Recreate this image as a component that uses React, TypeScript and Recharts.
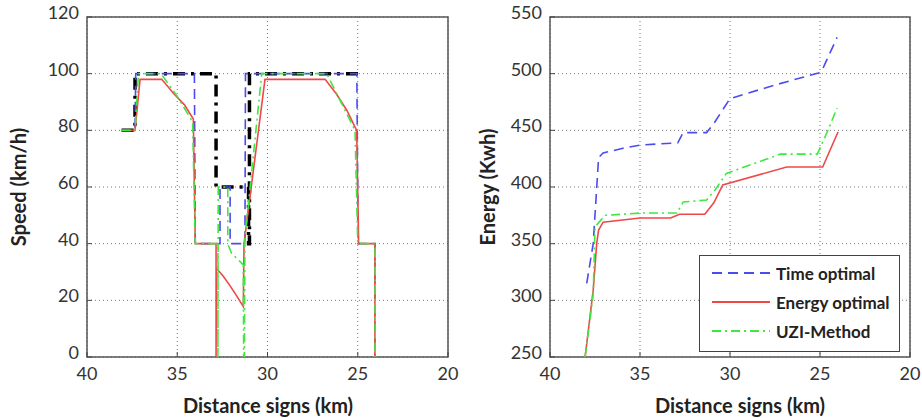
import { LineChart, Line, XAxis, YAxis, CartesianGrid, ReferenceArea } from "recharts"

// [distance sign (km), speed (km/h)]
const speedLimit = [
  [38.08, 80], [37.34, 80], [37.34, 100], [32.85, 100], [32.85, 60], [31.05, 60],
  [31.05, 40], [31.0, 40], [31.0, 100], [24.7, 100],
]
const speedTimeOpt = [
  [38.08, 80], [37.34, 80], [37.3, 100], [34.05, 100], [34.0, 40], [32.63, 40],
  [32.63, 60], [32.07, 60], [32.07, 40], [31.25, 40], [31.22, 100], [25.05, 100],
  [24.98, 40], [24.05, 40], [24.05, 0],
]
const speedEnergyOpt = [
  [38.08, 80], [37.34, 80], [37.06, 98], [35.86, 98], [35.2, 93], [34.6, 89],
  [34.11, 84], [34.0, 40], [32.85, 40], [32.85, 0], [32.83, 31.3], [32.45, 28.5],
  [32.08, 25.2], [31.7, 21.5], [31.34, 17.8], [31.3, 40], [30.14, 98], [26.81, 98],
  [26.2, 93], [25.6, 87], [25.06, 80], [24.95, 40], [24.05, 40], [24.05, 0],
]
const speedUzi = [
  [38.08, 80], [37.34, 80], [37.15, 100], [35.9, 100], [35.0, 92], [34.15, 83],
  [34.0, 40], [32.75, 40], [32.75, 0], [32.73, 60], [32.2, 60], [32.2, 40],
  [32.0, 36.7], [31.34, 32.5], [31.32, 0], [31.28, 0], [31.25, 42], [30.32, 100],
  [26.72, 100], [25.15, 80], [25.0, 40], [24.04, 40], [24.04, 0],
]

// [distance sign (km), energy (kWh)]
const energyTimeOpt = [
  [37.96, 315], [37.6, 350], [37.45, 388], [37.3, 426], [37.05, 430], [36.0, 434],
  [35.0, 437], [32.9, 439], [32.6, 448], [31.3, 448], [30.9, 456], [30.0, 478],
  [27.5, 490], [25.0, 501], [24.8, 506], [24.05, 532],
]
const energyEnergyOpt = [
  [38.05, 250], [37.6, 309], [37.4, 351], [37.3, 362], [37.05, 369], [35.0, 372.7],
  [33.3, 372.7], [32.8, 376], [31.4, 376], [30.9, 386], [30.4, 401.8], [26.85, 417.6],
  [24.85, 417.6], [24.0, 448.5],
]
const energyUzi = [
  [38.05, 250], [37.6, 305], [37.5, 364.7], [36.95, 375], [35.0, 377], [32.95, 377],
  [32.6, 386.8], [31.3, 388.5], [30.85, 397], [30.2, 412], [27.2, 429], [25.15, 429],
  [24.6, 448.5], [24.05, 469.7],
]

const xTicks = [40, 35, 30, 25, 20]
const speedTicks = [0, 20, 40, 60, 80, 100, 120]
const energyTicks = [250, 300, 350, 400, 450, 500, 550]

const toRows = (pts: number[][]) => pts.map(([d, v]) => ({ d, v }))

const BLUE = "#4b4bf0"
const RED = "#f04848"
const GREEN = "#3ee83e"
const FONT = "Lato, sans-serif"
const tick = { fontSize: 18, fill: "#333", fontFamily: FONT }

const series = [
  { label: "Time optimal", color: BLUE, dash: "10 6" },
  { label: "Energy optimal", color: RED, dash: undefined },
  { label: "UZI-Method", color: GREEN, dash: "9 4 2 4" },
]

// y tick labels, nudged so the bottom one clears the x labels
function YTick({ x, y, payload }: any) {
  return (
    <text x={x - 4} y={y} dy={2} textAnchor="end" fontSize={18} fill="#333" fontFamily={FONT}>
      {payload.value}
    </text>
  )
}

export default function App() {
  const margin = { top: 17, right: 12, bottom: 31, left: 27 }
  return (
    <div style={{ position: "absolute", left: 0, top: 0, width: 922, height: 418, background: "#fff", fontFamily: FONT }}>
      <div style={{ position: "absolute", left: 0, top: 0 }}>
        <LineChart width={460} height={418} margin={margin}>
          <CartesianGrid stroke="#777" strokeDasharray="1 3" />
          <XAxis type="number" dataKey="d" domain={[20, 40]} reversed ticks={xTicks} allowDataOverflow
            tick={tick} tickLine={{ stroke: "#444" }} tickSize={-5} axisLine={false} height={30} tickMargin={15} />
          <YAxis type="number" dataKey="v" domain={[0, 120]} ticks={speedTicks} allowDataOverflow
            tick={<YTick />} tickLine={{ stroke: "#444" }} tickSize={-5} axisLine={false} width={60} tickMargin={9} />
          <Line data={toRows(speedLimit)} dataKey="v" stroke="#000" strokeWidth={3.5} strokeDasharray="12 6 3 6" dot={false} isAnimationActive={false} />
          <Line data={toRows(speedTimeOpt)} dataKey="v" stroke={BLUE} strokeWidth={1.6} strokeDasharray="10 6" dot={false} isAnimationActive={false} />
          <Line data={toRows(speedEnergyOpt)} dataKey="v" stroke={RED} strokeWidth={1.6} dot={false} isAnimationActive={false} />
          <Line data={toRows(speedUzi)} dataKey="v" stroke={GREEN} strokeWidth={1.6} strokeDasharray="9 4 2 4" dot={false} isAnimationActive={false} />
          <ReferenceArea x1={40} x2={20} y1={0} y2={120} fill="none" stroke="#555" strokeWidth={1.5} />
        </LineChart>
      </div>
      <div style={{ position: "absolute", left: 460, top: 0 }}>
        <LineChart width={462} height={418} margin={{ ...margin, left: 30 }}>
          <CartesianGrid stroke="#777" strokeDasharray="1 3" />
          <XAxis type="number" dataKey="d" domain={[20, 40]} reversed ticks={xTicks} allowDataOverflow
            tick={tick} tickLine={{ stroke: "#444" }} tickSize={-5} axisLine={false} height={30} tickMargin={15} />
          <YAxis type="number" dataKey="v" domain={[250, 550]} ticks={energyTicks} allowDataOverflow
            tick={<YTick />} tickLine={{ stroke: "#444" }} tickSize={-5} axisLine={false} width={60} tickMargin={9} />
          <Line data={toRows(energyTimeOpt)} dataKey="v" stroke={BLUE} strokeWidth={1.6} strokeDasharray="10 6" dot={false} isAnimationActive={false} />
          <Line data={toRows(energyEnergyOpt)} dataKey="v" stroke={RED} strokeWidth={1.6} dot={false} isAnimationActive={false} />
          <Line data={toRows(energyUzi)} dataKey="v" stroke={GREEN} strokeWidth={1.6} strokeDasharray="9 4 2 4" dot={false} isAnimationActive={false} />
          <ReferenceArea x1={40} x2={20} y1={250} y2={550} fill="none" stroke="#555" strokeWidth={1.5} />
        </LineChart>
      </div>

      {/* axis titles */}
      <div style={titleY(18)}>Speed (km/h)</div>
      <div style={titleY(487)}>Energy (Kwh)</div>
      <div style={titleX(268)}>Distance signs (km)</div>
      <div style={titleX(740)}>Distance signs (km)</div>

      {/* legend */}
      <div style={{ position: "absolute", left: 699, top: 255, width: 199, height: 95, border: "1.5px solid #444", background: "#fff" }}>
        {series.map((s, i) => (
          <div key={s.label} style={{ position: "absolute", left: 12, top: 5 + i * 29, height: 24, display: "flex", alignItems: "center", gap: 6 }}>
            <svg width={58} height={10}>
              <line x1={0} y1={5} x2={58} y2={5} stroke={s.color} strokeWidth={2} strokeDasharray={s.dash} />
            </svg>
            <span style={{ fontSize: 17, fontWeight: 700, color: "#222" }}>{s.label}</span>
          </div>
        ))}
      </div>
    </div>
  )
}

function titleY(cx: number): React.CSSProperties {
  return {
    position: "absolute", left: cx - 90, top: 187 - 13, width: 180, height: 26, lineHeight: "26px",
    textAlign: "center", transform: "rotate(-90deg)", fontSize: 20, fontWeight: 700, color: "#222",
  }
}

function titleX(cx: number): React.CSSProperties {
  return {
    position: "absolute", left: cx - 130, top: 392, width: 260, height: 26, lineHeight: "26px",
    textAlign: "center", fontSize: 20, fontWeight: 700, color: "#222",
  }
}
